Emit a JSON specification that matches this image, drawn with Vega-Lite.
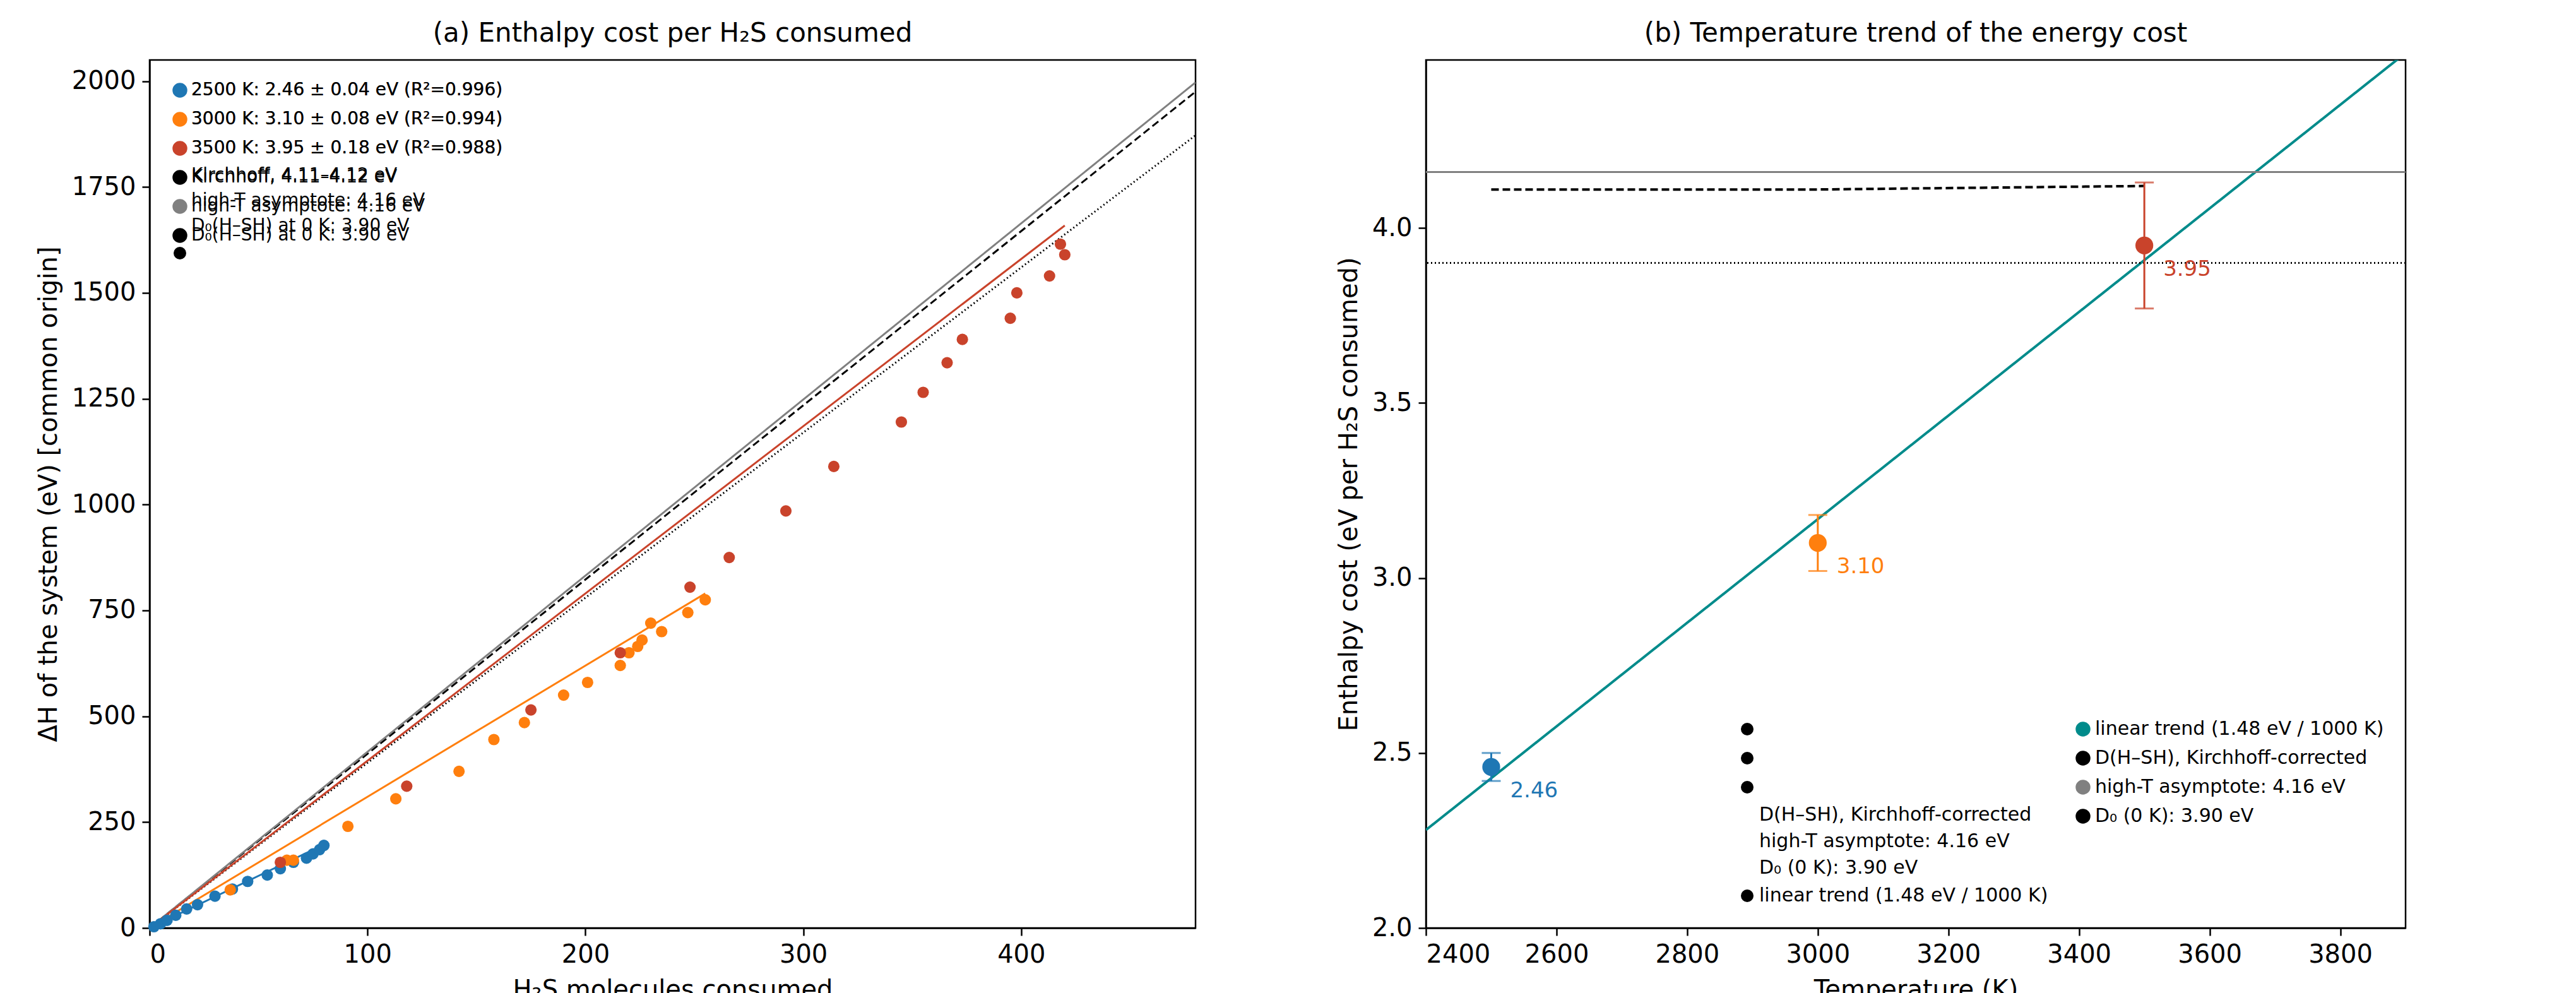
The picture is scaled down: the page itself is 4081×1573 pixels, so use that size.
{
  "$schema": "https://vega.github.io/schema/vega-lite/v6.json",
  "background": "white",
  "padding": {"left": 55, "top": 30, "right": 20, "bottom": 5},
  "config": {
    "font": "DejaVu Sans",
    "view": {"stroke": "black", "strokeWidth": 2.5},
    "axis": {"labelFontSize": 40, "titleFontSize": 40, "titleFontWeight": "normal", "grid": false, "domainColor": "black", "domainWidth": 2.5, "tickColor": "black", "tickWidth": 2.5, "tickSize": 12, "labelColor": "black", "titleColor": "black", "labelPadding": 10, "titlePadding": 16},
    "title": {"fontSize": 42, "fontWeight": "normal", "offset": 20},
    "legend": {"labelFontSize": 30, "symbolSize": 400, "symbolStrokeWidth": 3.5, "rowPadding": 12, "padding": 16, "title": null, "labelLimit": 1200}
  },
  "datasets": {
    "pts": [
      {"s": "2500", "n": 2, "h": 3}, {"s": "2500", "n": 5, "h": 10}, {"s": "2500", "n": 8, "h": 18}, {"s": "2500", "n": 12, "h": 30},
      {"s": "2500", "n": 17, "h": 45}, {"s": "2500", "n": 22, "h": 55}, {"s": "2500", "n": 30, "h": 75}, {"s": "2500", "n": 38, "h": 92},
      {"s": "2500", "n": 45, "h": 110}, {"s": "2500", "n": 54, "h": 125}, {"s": "2500", "n": 60, "h": 140}, {"s": "2500", "n": 66, "h": 155},
      {"s": "2500", "n": 72, "h": 165}, {"s": "2500", "n": 75, "h": 175}, {"s": "2500", "n": 78, "h": 185}, {"s": "2500", "n": 80, "h": 195},
      {"s": "3000", "n": 37, "h": 90}, {"s": "3000", "n": 63, "h": 160}, {"s": "3000", "n": 66, "h": 160}, {"s": "3000", "n": 91, "h": 240},
      {"s": "3000", "n": 113, "h": 305}, {"s": "3000", "n": 142, "h": 370}, {"s": "3000", "n": 158, "h": 445}, {"s": "3000", "n": 172, "h": 485},
      {"s": "3000", "n": 190, "h": 550}, {"s": "3000", "n": 201, "h": 580}, {"s": "3000", "n": 216, "h": 620}, {"s": "3000", "n": 220, "h": 650},
      {"s": "3000", "n": 224, "h": 665}, {"s": "3000", "n": 226, "h": 680}, {"s": "3000", "n": 230, "h": 720}, {"s": "3000", "n": 235, "h": 700},
      {"s": "3000", "n": 247, "h": 745}, {"s": "3000", "n": 255, "h": 775},
      {"s": "3500", "n": 60, "h": 155}, {"s": "3500", "n": 118, "h": 335}, {"s": "3500", "n": 175, "h": 515}, {"s": "3500", "n": 216, "h": 650},
      {"s": "3500", "n": 248, "h": 805}, {"s": "3500", "n": 266, "h": 875}, {"s": "3500", "n": 292, "h": 985}, {"s": "3500", "n": 314, "h": 1090},
      {"s": "3500", "n": 345, "h": 1195}, {"s": "3500", "n": 355, "h": 1265}, {"s": "3500", "n": 366, "h": 1335}, {"s": "3500", "n": 373, "h": 1390},
      {"s": "3500", "n": 395, "h": 1440}, {"s": "3500", "n": 398, "h": 1500}, {"s": "3500", "n": 413, "h": 1540}, {"s": "3500", "n": 418, "h": 1615},
      {"s": "3500", "n": 420, "h": 1590}
    ],
    "fits": [
      {"s": "2500", "n": 0, "h": 0}, {"s": "2500", "n": 80, "h": 197},
      {"s": "3000", "n": 0, "h": 0}, {"s": "3000", "n": 255, "h": 790},
      {"s": "3500", "n": 0, "h": 0}, {"s": "3500", "n": 420, "h": 1659}
    ],
    "refs": [
      {"s": "kirch", "n": 0, "h": 0}, {"s": "kirch", "n": 480, "h": 1975},
      {"s": "asym", "n": 0, "h": 0}, {"s": "asym", "n": 480, "h": 1997},
      {"s": "d0", "n": 0, "h": 0}, {"s": "d0", "n": 480, "h": 1872}
    ],
    "temps": [
      {"T": "2500", "t": 2500, "e": 2.46, "lo": 2.42, "hi": 2.50},
      {"T": "3000", "t": 3000, "e": 3.10, "lo": 3.02, "hi": 3.18},
      {"T": "3500", "t": 3500, "e": 3.95, "lo": 3.77, "hi": 4.13}
    ]
  },
  "hconcat": [
    {
      "width": 1657,
      "height": 1375,
      "title": "(a) Enthalpy cost per H₂S consumed",
      "layer": [
        {
          "data": {"name": "refs"},
          "mark": {"type": "line", "strokeWidth": 3, "clip": true},
          "encoding": {
            "x": {"field": "n", "type": "quantitative", "scale": {"domain": [0, 480], "nice": false}, "title": "H₂S molecules consumed", "axis": {"values": [0, 100, 200, 300, 400]}},
            "y": {"field": "h", "type": "quantitative", "scale": {"domain": [0, 2050], "nice": false}, "title": "ΔH of the system (eV) [common origin]", "axis": {"values": [0, 250, 500, 750, 1000, 1250, 1500, 1750, 2000], "format": "d"}},
            "color": {"field": "s", "type": "nominal"},
            "strokeDash": {"field": "s", "type": "nominal", "scale": {"domain": ["2500", "3000", "3500", "kirch", "asym", "d0"], "range": [[1, 0], [1, 0], [1, 0], [12, 6], [1, 0], [2, 4]]},
              "legend": {"orient": "top-left", "labelFontSize": 28, "labelExpr": "{'2500': '2500 K: 2.46 ± 0.04 eV (R²=0.996)', '3000': '3000 K: 3.10 ± 0.08 eV (R²=0.994)', '3500': '3500 K: 3.95 ± 0.18 eV (R²=0.988)', 'kirch': 'Kirchhoff, 4.11–4.12 eV', 'asym': 'high-T asymptote: 4.16 eV', 'd0': 'D₀(H–SH) at 0 K: 3.90 eV'}[datum.label]"}}
          }
        },
        {
          "data": {"name": "fits"},
          "mark": {"type": "line", "strokeWidth": 3},
          "encoding": {
            "x": {"field": "n", "type": "quantitative"},
            "y": {"field": "h", "type": "quantitative"},
            "color": {"field": "s", "type": "nominal"}
          }
        },
        {
          "data": {"name": "pts"},
          "mark": {"type": "point", "filled": true, "size": 330, "opacity": 1},
          "encoding": {
            "x": {"field": "n", "type": "quantitative"},
            "y": {"field": "h", "type": "quantitative"},
            "color": {"field": "s", "type": "nominal",
              "scale": {"domain": ["2500", "3000", "3500", "kirch", "asym", "d0"], "range": ["#1f77b4", "#ff7f0e", "#c9432b", "black", "#808080", "black"]},
              "legend": {"orient": "top-left", "labelFontSize": 28, "labelExpr": "{'2500': '2500 K: 2.46 ± 0.04 eV (R²=0.996)', '3000': '3000 K: 3.10 ± 0.08 eV (R²=0.994)', '3500': '3500 K: 3.95 ± 0.18 eV (R²=0.988)', 'kirch': 'Kirchhoff, 4.11–4.12 eV', 'asym': 'high-T asymptote: 4.16 eV', 'd0': 'D₀(H–SH) at 0 K: 3.90 eV'}[datum.label]"}},
            "shape": {"field": "s", "type": "nominal", "scale": {"domain": ["2500", "3000", "3500", "kirch", "asym", "d0"], "range": ["circle", "circle", "circle", "stroke", "stroke", "stroke"]},
              "legend": {"orient": "top-left", "labelFontSize": 28, "labelExpr": "{'2500': '2500 K: 2.46 ± 0.04 eV (R²=0.996)', '3000': '3000 K: 3.10 ± 0.08 eV (R²=0.994)', '3500': '3500 K: 3.95 ± 0.18 eV (R²=0.988)', 'kirch': 'Kirchhoff, 4.11–4.12 eV', 'asym': 'high-T asymptote: 4.16 eV', 'd0': 'D₀(H–SH) at 0 K: 3.90 eV'}[datum.label]"}}
          }
        }
      ]
    },
    {
      "width": 1552,
      "height": 1375,
      "title": "(b) Temperature trend of the energy cost",
      "layer": [
        {
          "layer": [
            {
              "data": {"values": [
                {"s": "trend", "t": 2400, "e": 2.28}, {"s": "trend", "t": 3900, "e": 4.50},
                {"s": "kirch", "t": 2500, "e": 4.11}, {"s": "kirch", "t": 3000, "e": 4.11}, {"s": "kirch", "t": 3500, "e": 4.12}
              ]},
              "mark": {"type": "line", "strokeWidth": 4, "clip": true},
              "encoding": {
                "x": {"field": "t", "type": "quantitative", "scale": {"domain": [2400, 3900], "nice": false}, "title": "Temperature (K)", "axis": {"values": [2400, 2600, 2800, 3000, 3200, 3400, 3600, 3800], "format": "d"}},
                "y": {"field": "e", "type": "quantitative", "scale": {"domain": [2.0, 4.48], "nice": false}, "title": "Enthalpy cost (eV per H₂S consumed)", "axis": {"values": [2.0, 2.5, 3.0, 3.5, 4.0], "format": ".1f"}},
                "color": {"field": "s", "type": "nominal",
                  "scale": {"domain": ["trend", "kirch", "asym", "d0"], "range": ["#008b8b", "black", "#808080", "black"]},
                  "legend": {"orient": "bottom-right", "labelExpr": "{'trend': 'linear trend (1.48 eV / 1000 K)', 'kirch': 'D(H–SH), Kirchhoff-corrected', 'asym': 'high-T asymptote: 4.16 eV', 'd0': 'D₀ (0 K): 3.90 eV'}[datum.label]"}},
                "strokeDash": {"field": "s", "type": "nominal", "scale": {"domain": ["trend", "kirch", "asym", "d0"], "range": [[1, 0], [12, 6], [1, 0], [2, 4]]},
                  "legend": {"orient": "bottom-right", "labelExpr": "{'trend': 'linear trend (1.48 eV / 1000 K)', 'kirch': 'D(H–SH), Kirchhoff-corrected', 'asym': 'high-T asymptote: 4.16 eV', 'd0': 'D₀ (0 K): 3.90 eV'}[datum.label]"}}
              }
            },
            {
              "data": {"values": [{"s": "asym", "e": 4.16}, {"s": "d0", "e": 3.90}]},
              "mark": {"type": "rule", "strokeWidth": 3},
              "encoding": {
                "y": {"field": "e", "type": "quantitative"},
                "color": {"field": "s", "type": "nominal"},
                "strokeDash": {"field": "s", "type": "nominal"}
              }
            },
            {
              "data": {"values": [{"s": "kirch", "t": 2500, "e": 4.11}, {"s": "kirch", "t": 3000, "e": 4.11}, {"s": "kirch", "t": 3500, "e": 4.12}]},
              "mark": {"type": "point", "filled": true, "size": 650, "opacity": 1},
              "encoding": {
                "x": {"field": "t", "type": "quantitative"},
                "y": {"field": "e", "type": "quantitative"},
                "color": {"field": "s", "type": "nominal"},
                "shape": {"field": "s", "type": "nominal", "scale": {"domain": ["trend", "kirch", "asym", "d0"], "range": ["stroke", "square", "stroke", "stroke"]},
                  "legend": {"orient": "bottom-right", "labelExpr": "{'trend': 'linear trend (1.48 eV / 1000 K)', 'kirch': 'D(H–SH), Kirchhoff-corrected', 'asym': 'high-T asymptote: 4.16 eV', 'd0': 'D₀ (0 K): 3.90 eV'}[datum.label]"}}
              }
            },
            {
              "mark": {"type": "rule", "strokeDash": [14, 6, 3, 6], "color": "#888888", "strokeWidth": 2.5},
              "encoding": {"x": {"datum": 3637}}
            },
            {
              "mark": {"type": "text", "align": "right", "color": "#808080", "fontSize": 31, "lineHeight": 40},
              "encoding": {"x": {"datum": 3622}, "y": {"datum": 2.68}, "text": {"value": ["trend meets the corrected", "value near ≈3637 K"]}}
            }
          ]
        },
        {
          "data": {"name": "temps"},
          "layer": [
            {"mark": {"type": "rule", "strokeWidth": 3}, "encoding": {"y": {"field": "lo", "type": "quantitative"}, "y2": {"field": "hi"}}},
            {"mark": {"type": "tick", "orient": "horizontal", "thickness": 3, "size": 30}, "encoding": {"y": {"field": "lo", "type": "quantitative"}}},
            {"mark": {"type": "tick", "orient": "horizontal", "thickness": 3, "size": 30}, "encoding": {"y": {"field": "hi", "type": "quantitative"}}},
            {"mark": {"type": "circle", "size": 800, "opacity": 1}, "encoding": {"y": {"field": "e", "type": "quantitative"}}},
            {"mark": {"type": "text", "align": "left", "dx": 30, "dy": 38, "fontSize": 34}, "encoding": {"y": {"field": "e", "type": "quantitative"}, "text": {"field": "e", "format": ".2f"}}}
          ],
          "encoding": {
            "x": {"field": "t", "type": "quantitative"},
            "color": {"field": "T", "type": "nominal", "scale": {"domain": ["2500", "3000", "3500"], "range": ["#1f77b4", "#ff7f0e", "#c9432b"]}, "legend": null}
          }
        }
      ],
      "resolve": {"scale": {"color": "independent"}}
    }
  ],
  "spacing": 220
}
